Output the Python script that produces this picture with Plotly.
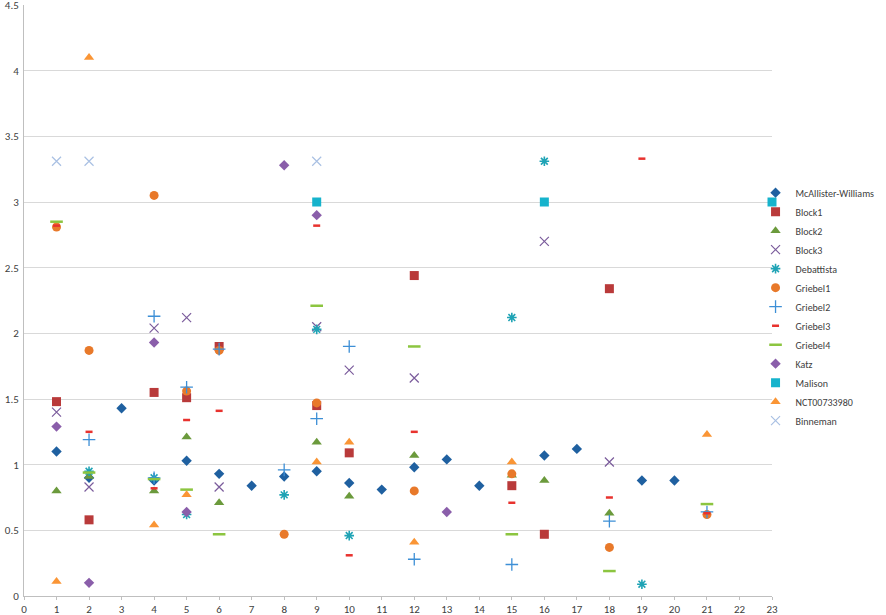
import plotly.graph_objects as go

# ---- data ----
mcw_x = [1, 2, 3, 4, 5, 6, 7, 8, 9, 10, 11, 12, 13, 14, 16, 17, 19, 20]
mcw_y = [1.10, 0.90, 1.43, 0.88, 1.03, 0.93, 0.84, 0.91, 0.95, 0.86, 0.81, 0.98, 1.04, 0.84, 1.07, 1.12, 0.88, 0.88]

block1_x = [1, 2, 4, 5, 6, 9, 10, 12, 15, 16, 18]
block1_y = [1.48, 0.58, 1.55, 1.51, 1.90, 1.45, 1.09, 2.44, 0.84, 0.47, 2.34]

block2_x = [1, 2, 4, 5, 6, 9, 10, 12, 15, 16, 18]
block2_y = [0.80, 0.91, 0.80, 1.21, 0.71, 1.17, 0.76, 1.07, 0.92, 0.88, 0.63]

block3_x = [1, 2, 4, 5, 6, 9, 10, 12, 16, 18]
block3_y = [1.40, 0.83, 2.04, 2.12, 0.83, 2.05, 1.72, 1.66, 2.70, 1.02]

debattista_x = [2, 4, 5, 8, 9, 10, 15, 16, 19]
debattista_y = [0.95, 0.90, 0.62, 0.77, 2.03, 0.46, 2.12, 3.31, 0.09]

griebel1_x = [1, 2, 4, 5, 6, 8, 9, 12, 15, 18, 21]
griebel1_y = [2.81, 1.87, 3.05, 1.56, 1.87, 0.47, 1.47, 0.80, 0.93, 0.37, 0.62]

griebel2_x = [2, 4, 4, 5, 6, 8, 9, 10, 12, 15, 18, 21]
griebel2_y = [1.19, 2.13, 0.90, 1.59, 1.88, 0.96, 1.35, 1.90, 0.28, 0.24, 0.57, 0.64]

griebel3_x = [1, 2, 4, 5, 6, 9, 10, 12, 15, 18, 19, 21]
griebel3_y = [2.82, 1.25, 0.82, 1.34, 1.41, 2.82, 0.31, 1.25, 0.71, 0.75, 3.33, 0.63]

griebel4_x = [1, 2, 4, 5, 6, 9, 12, 15, 18, 21]
griebel4_y = [2.85, 0.94, 0.89, 0.81, 0.47, 2.21, 1.90, 0.47, 0.19, 0.70]

katz_x = [1, 2, 4, 5, 8, 9, 13]
katz_y = [1.29, 0.10, 1.93, 0.64, 3.28, 2.90, 0.64]

malison_x = [9, 16, 23]
malison_y = [3.00, 3.00, 3.00]

nct_x = [1, 2, 4, 5, 9, 10, 12, 15, 21]
nct_y = [0.11, 4.10, 0.54, 0.77, 1.02, 1.17, 0.41, 1.02, 1.23]

binneman_x = [1, 2, 9]
binneman_y = [3.31, 3.31, 3.31]

x_ticks = list(range(0, 24))
y_ticks = [0, 0.5, 1, 1.5, 2, 2.5, 3, 3.5, 4, 4.5]

# ---- styles ----
series = [
    ("McAllister-Williams", mcw_x, mcw_y, dict(symbol="diamond", size=8, color="#1F60A0")),
    ("Block1", block1_x, block1_y, dict(symbol="square", size=9, color="#B93A3A")),
    ("Block2", block2_x, block2_y, dict(symbol="triangle-up", size=9, color="#6B9A3C")),
    ("Block3", block3_x, block3_y, dict(symbol="x-thin-open", size=9, color="#7B5C9C", line=dict(width=1.2, color="#7B5C9C"))),
    ("Debattista", debattista_x, debattista_y, dict(symbol="asterisk-open", size=8, color="#1FA3B5", line=dict(width=1.6, color="#1FA3B5"))),
    ("Griebel1", griebel1_x, griebel1_y, dict(symbol="circle", size=9, color="#E8792A")),
    ("Griebel2", griebel2_x, griebel2_y, dict(symbol="cross-thin-open", size=9, color="#3D8FD6", line=dict(width=1.3, color="#3D8FD6"))),
    ("Griebel3", griebel3_x, griebel3_y, dict(symbol="line-ew-open", size=5, color="#E8322E", line=dict(width=2.5, color="#E8322E"))),
    ("Griebel4", griebel4_x, griebel4_y, dict(symbol="line-ew-open", size=9, color="#8CC540", line=dict(width=2.5, color="#8CC540"))),
    ("Katz", katz_x, katz_y, dict(symbol="diamond", size=8, color="#8A5EAA")),
    ("Malison", malison_x, malison_y, dict(symbol="square", size=9, color="#16B3CC")),
    ("NCT00733980", nct_x, nct_y, dict(symbol="triangle-up", size=9, color="#FA9535")),
    ("Binneman", binneman_x, binneman_y, dict(symbol="x-thin-open", size=9, color="#A9C0E3", line=dict(width=1.2, color="#A9C0E3"))),
]

fig = go.Figure()
for name, xs, ys, mk in series:
    fig.add_trace(go.Scatter(x=xs, y=ys, mode="markers", name=name, legendgroup=name,
                             marker=mk, cliponaxis=False))

fig.update_layout(
    width=886, height=615,
    margin=dict(l=24, r=114, t=5, b=19),
    paper_bgcolor="white", plot_bgcolor="white",
    font=dict(family="Calibri, Carlito, Lato, sans-serif", size=11, color="#404040"),
    showlegend=True,
    legend=dict(x=0.978, y=0.707, xanchor="left", yanchor="top",
                font=dict(size=10, color="#404040"), itemwidth=30,
                tracegroupgap=0, bgcolor="rgba(0,0,0,0)", borderwidth=0),
)
fig.update_xaxes(range=[0, 23], tickvals=x_ticks, ticktext=[str(v) for v in x_ticks],
                 showgrid=False, zeroline=False, showline=True, linecolor="#BFBFBF", linewidth=1,
                 ticks="outside", ticklen=3, tickcolor="#BFBFBF", automargin=False,
                 ticklabeloverflow="allow", tickfont=dict(size=11, color="#404040"))
fig.update_yaxes(range=[0, 4.5], tickvals=y_ticks, ticktext=[f"{v:g}" for v in y_ticks],
                 showgrid=True, gridcolor="#D9D9D9", gridwidth=1, zeroline=False,
                 showline=True, linecolor="#BFBFBF", linewidth=1, ticks="", automargin=False,
                 ticklabeloverflow="allow", ticklabelstandoff=2,
                 tickfont=dict(size=11, color="#404040"))

fig.write_html("out.html", config={"displayModeBar": False},
               post_script="document.body.style.margin='0';")
